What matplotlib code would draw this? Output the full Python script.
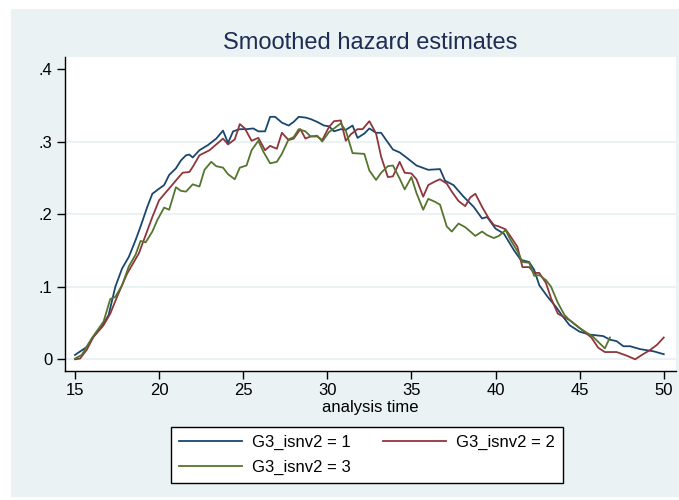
import matplotlib
matplotlib.use("Agg")
import matplotlib.pyplot as plt
from matplotlib.patches import Rectangle

plt.rcParams['font.family'] = ['Liberation Sans', 'DejaVu Sans']

title = "Smoothed hazard estimates"
xlabel = "analysis time"
labels = ["G3_isnv2 = 1", "G3_isnv2 = 2", "G3_isnv2 = 3"]
colors = ["#1A476F", "#90353B", "#55752F"]

x_ticks = [15, 20, 25, 30, 35, 40, 45, 50]
y_ticks = [0, 0.1, 0.2, 0.3, 0.4]
y_ticklabels = ["0", ".1", ".2", ".3", ".4"]

t1 = [15.0, 15.7, 16.1, 16.6, 17.0, 17.4, 17.8, 18.2, 18.6, 18.9, 19.3, 19.6, 20.0, 20.3, 20.6,
      21.0, 21.3, 21.6, 21.8, 22.0, 22.4, 22.9, 23.4, 23.8, 24.1, 24.4, 24.8, 25.2, 25.6, 25.9,
      26.3, 26.6, 26.9, 27.3, 27.7, 28.0, 28.3, 28.7, 29.0, 29.4, 29.8, 30.1, 30.4, 30.8, 31.1,
      31.5, 31.8, 32.2, 32.5, 32.9, 33.2, 33.5, 33.9, 34.3, 34.7, 35.3, 36.0, 36.7, 37.0, 37.5,
      38.1, 38.7, 39.2, 39.5, 40.0, 40.5, 41.1, 41.5, 42.0, 42.3, 42.6, 43.1, 43.6, 44.0, 44.4,
      45.0, 45.6, 46.4, 46.8, 47.2, 47.6, 48.0, 48.6, 49.4, 50.0]
h1 = [.006, .017, .031, .045, .061, .100, .125, .141, .164, .183, .210, .228, .235, .240, .254,
      .263, .274, .281, .282, .278, .288, .295, .304, .315, .298, .314, .317, .317, .318, .314,
      .314, .334, .334, .326, .322, .327, .334, .333, .331, .327, .322, .321, .314, .317, .316,
      .322, .305, .311, .318, .312, .312, .302, .289, .285, .278, .267, .261, .262, .246, .240,
      .224, .210, .194, .196, .180, .173, .150, .137, .134, .123, .102, .086, .072, .059, .047,
      .038, .034, .032, .027, .025, .018, .018, .014, .011, .007]

t2 = [15.0, 15.3, 15.7, 16.1, 16.7, 17.1, 17.5, 18.1, 18.8, 19.2, 19.6, 20.0, 20.4, 20.7, 21.1,
      21.4, 21.8, 22.0, 22.4, 23.0, 23.4, 23.8, 24.1, 24.5, 24.8, 25.1, 25.5, 25.9, 26.3, 26.6,
      27.0, 27.3, 27.7, 28.0, 28.4, 28.7, 29.0, 29.4, 29.7, 30.1, 30.4, 30.8, 31.1, 31.4, 31.8,
      32.1, 32.5, 32.9, 33.2, 33.6, 33.9, 34.3, 34.6, 35.0, 35.3, 35.7, 36.0, 36.4, 36.7, 37.1,
      37.4, 37.8, 38.2, 38.5, 38.8, 39.2, 39.6, 39.9, 40.2, 40.6, 40.9, 41.3, 41.6, 42.0, 42.3,
      42.6, 43.0, 43.3, 43.7, 44.4, 45.0, 45.7, 46.1, 46.5, 47.2, 47.8, 48.3, 48.7, 49.2, 49.6, 50.0]
h2 = [.000, .001, .013, .031, .047, .063, .086, .118, .146, .171, .196, .219, .230, .238, .249,
      .257, .258, .265, .281, .288, .296, .304, .296, .303, .324, .318, .301, .305, .288, .294,
      .290, .312, .302, .304, .317, .304, .307, .307, .302, .320, .328, .329, .301, .310, .317,
      .317, .328, .311, .279, .251, .252, .272, .257, .256, .248, .224, .240, .245, .248, .242,
      .231, .218, .211, .223, .228, .210, .194, .185, .183, .179, .169, .155, .127, .127, .119,
      .119, .105, .084, .063, .054, .043, .030, .016, .010, .010, .005, .000, .006, .013, .020, .030]

t3 = [15.0, 15.4, 16.0, 16.7, 17.1, 17.4, 17.8, 18.2, 18.6, 18.9, 19.2, 19.6, 19.9, 20.3, 20.6,
      21.0, 21.3, 21.6, 22.0, 22.4, 22.7, 23.1, 23.4, 23.8, 24.1, 24.5, 24.8, 25.2, 25.5, 25.9,
      26.2, 26.6, 27.0, 27.3, 27.7, 28.0, 28.3, 28.7, 29.0, 29.4, 29.7, 30.1, 30.4, 30.8, 31.1,
      31.5, 32.2, 32.5, 32.9, 33.2, 33.6, 33.9, 34.3, 34.6, 35.0, 35.3, 35.7, 36.0, 36.4, 36.7,
      37.1, 37.4, 37.8, 38.2, 38.5, 38.8, 39.2, 39.5, 39.9, 40.2, 40.6, 40.9, 41.3, 41.6, 42.0,
      42.3, 42.6, 43.0, 43.3, 43.7, 44.1, 44.4, 45.0, 45.8, 46.5, 46.8]
h3 = [.001, .006, .029, .052, .083, .086, .102, .128, .144, .163, .161, .176, .192, .209, .206,
      .237, .232, .231, .241, .238, .261, .272, .266, .264, .255, .248, .264, .267, .288, .301,
      .286, .270, .272, .283, .303, .306, .317, .314, .307, .308, .300, .313, .318, .325, .315,
      .284, .283, .260, .247, .257, .266, .267, .249, .234, .251, .229, .206, .221, .217, .213,
      .183, .176, .187, .182, .176, .170, .176, .171, .167, .170, .178, .164, .149, .134, .133,
      .115, .116, .109, .100, .078, .061, .054, .043, .031, .015, .030]

W, H = 679, 500
fig = plt.figure(figsize=(W / 100, H / 100), dpi=100)
fig.patch.set_facecolor("white")
bg = "#EAF2F3"
fig.add_artist(Rectangle((11 / W, 3 / H), (W - 11) / W, (H - 12) / H,
                         transform=fig.transFigure, facecolor=bg, edgecolor="none", zorder=0))

left, right, top, bottom = 64.7, 675.7, 57.3, 370.7
ax = fig.add_axes([left / W, 1 - bottom / H, (right - left) / W, (bottom - top) / H])
ax.set_facecolor("white")

for yv in y_ticks[:-1]:
    ax.axhline(yv, color=bg, lw=1.5, zorder=1)

lines = []
for t, h, c, lab in zip([t1, t2, t3], [h1, h2, h3], colors, labels):
    ln, = ax.plot(t, h, color=c, lw=1.3, label=lab, zorder=3)
    lines.append(ln)

ax.set_xlim(14.39, 50.71)
ax.set_ylim(-0.0157, 0.416)
ax.set_xticks(x_ticks)
ax.set_xticklabels([str(v) for v in x_ticks])
ax.set_yticks(y_ticks)
ax.set_yticklabels(y_ticklabels)
for s in ["top", "right"]:
    ax.spines[s].set_visible(False)
for s in ["left", "bottom"]:
    ax.spines[s].set_linewidth(1.0)
    ax.spines[s].set_color("black")
ax.tick_params(axis="both", direction="out", length=6, width=1, labelsize=12, pad=3, colors="black")

ax.set_xlabel(xlabel, fontsize=12, labelpad=1)
fig.text((left + right) / 2 / W, 1 - 43 / H, title, ha="center", va="center",
         fontsize=17, color="#1E2D53")

# row-wise ordering: row 1 -> series 1, 2 ; row 2 -> series 3
order = [0, 2, 1]
leg = fig.legend([lines[i] for i in order], [labels[i] for i in order],
                 loc="center", bbox_to_anchor=(367 / W, 1 - 455 / H), ncol=2,
                 frameon=True, fancybox=False, edgecolor="black", facecolor="white",
                 fontsize=12, handlelength=3.8, handletextpad=0.6, columnspacing=1.9,
                 labelspacing=0.55, borderpad=0.5, borderaxespad=0, framealpha=1)
leg.get_frame().set_linewidth(1.0)

fig.savefig("out.png", dpi=100, facecolor=fig.get_facecolor())
